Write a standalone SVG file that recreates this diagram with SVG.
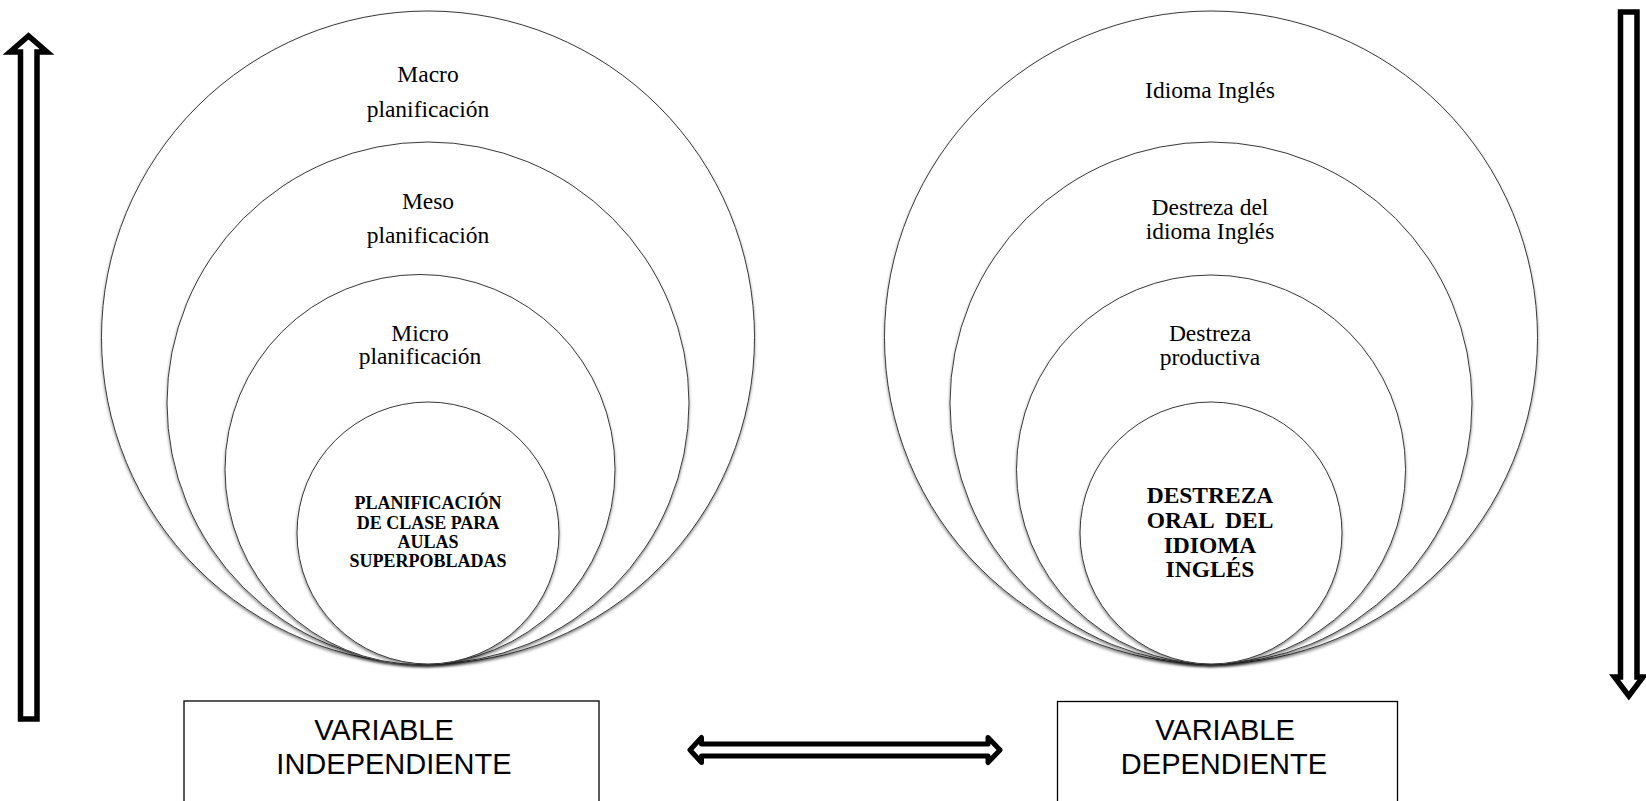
<svg xmlns="http://www.w3.org/2000/svg" width="1646" height="801" viewBox="0 0 1646 801">
<defs>
<filter id="sh" x="-10%" y="-10%" width="120%" height="125%">
<feDropShadow dx="0" dy="2" stdDeviation="1.6" flood-color="#000" flood-opacity="0.45"/>
</filter>
<style>
.c{fill:#fff;stroke:#3a3a3a;stroke-width:1;filter:url(#sh)}
.t{font-family:"Liberation Serif","Times New Roman",serif;font-size:23.5px;fill:#000;text-anchor:middle}
.bl{font-family:"Liberation Serif","Times New Roman",serif;font-size:18px;font-weight:bold;fill:#000;text-anchor:middle}
.br{font-family:"Liberation Serif","Times New Roman",serif;font-size:23.5px;font-weight:bold;fill:#000;text-anchor:middle}
.bx{fill:#fff;stroke:#000;stroke-width:1.3}
.bt{font-family:"Liberation Sans",Arial,sans-serif;font-size:29px;fill:#000;text-anchor:middle}
.ar{fill:#fff;stroke:#000;stroke-width:5.5;stroke-linejoin:miter}
</style>
</defs>
<rect width="1646" height="801" fill="#fff"/>

<g id="left-circles">
<g id="macro"><circle class="c" cx="428" cy="337.5" r="326.5"/>
<text class="t" x="428" y="82">Macro</text><text class="t" x="428" y="117">planificación</text></g>
<g id="meso"><circle class="c" cx="428" cy="403" r="261"/>
<text class="t" x="428" y="209">Meso</text><text class="t" x="428" y="243">planificación</text></g>
<g id="micro"><circle class="c" cx="420" cy="469.5" r="195"/>
<text class="t" x="420" y="341">Micro</text><text class="t" x="420" y="364">planificación</text></g>
<g id="planificacion-clase"><circle class="c" cx="428" cy="533" r="131"/>
<text class="bl" x="428" y="509">PLANIFICACIÓN</text><text class="bl" x="428" y="528.5">DE CLASE PARA</text><text class="bl" x="428" y="548">AULAS</text><text class="bl" x="428" y="567">SUPERPOBLADAS</text></g>
</g>

<g id="right-circles">
<g id="idioma"><circle class="c" cx="1211" cy="337.5" r="326.5"/>
<text class="t" x="1210" y="98">Idioma Inglés</text></g>
<g id="destreza-idioma"><circle class="c" cx="1211" cy="403" r="261"/>
<text class="t" x="1210" y="215">Destreza del</text><text class="t" x="1210" y="239">idioma Inglés</text></g>
<g id="destreza-productiva"><circle class="c" cx="1211" cy="469.5" r="194.5"/>
<text class="t" x="1210" y="341">Destreza</text><text class="t" x="1210" y="365">productiva</text></g>
<g id="destreza-oral"><circle class="c" cx="1211" cy="533" r="131"/>
<text class="br" x="1210" y="503">DESTREZA</text><text class="br" x="1210" y="528" xml:space="preserve">ORAL  DEL</text><text class="br" x="1210" y="552.5">IDIOMA</text><text class="br" x="1210" y="576.5">INGLÉS</text></g>
</g>

<g id="box-independiente">
<rect class="bx" x="184" y="701" width="415" height="110"/>
<text class="bt" x="384" y="739.5">VARIABLE</text><text class="bt" x="394" y="773.5">INDEPENDIENTE</text>
</g>
<g id="box-dependiente">
<rect class="bx" x="1057.5" y="701.5" width="340" height="110"/>
<text class="bt" x="1225" y="740">VARIABLE</text><text class="bt" x="1224" y="773.5">DEPENDIENTE</text>
</g>

<g id="connectors">
<path class="ar" d="M20.5,719 L20.5,52 L10,52 L28.5,36 L47,52 L37,52 L37,719 Z"/>
<path class="ar" d="M1620.5,12 L1637,12 L1637,677 L1643,677 L1628.8,696 L1614.5,677 L1620.5,677 Z"/>
<path class="ar" style="stroke-width:5;stroke-linejoin:round" d="M690,750 L701.5,737.5 L701.5,744 L988,744 L988,737.5 L1000,750 L988,762.5 L988,756 L701.5,756 L701.5,762.5 Z"/>
</g>
</svg>
